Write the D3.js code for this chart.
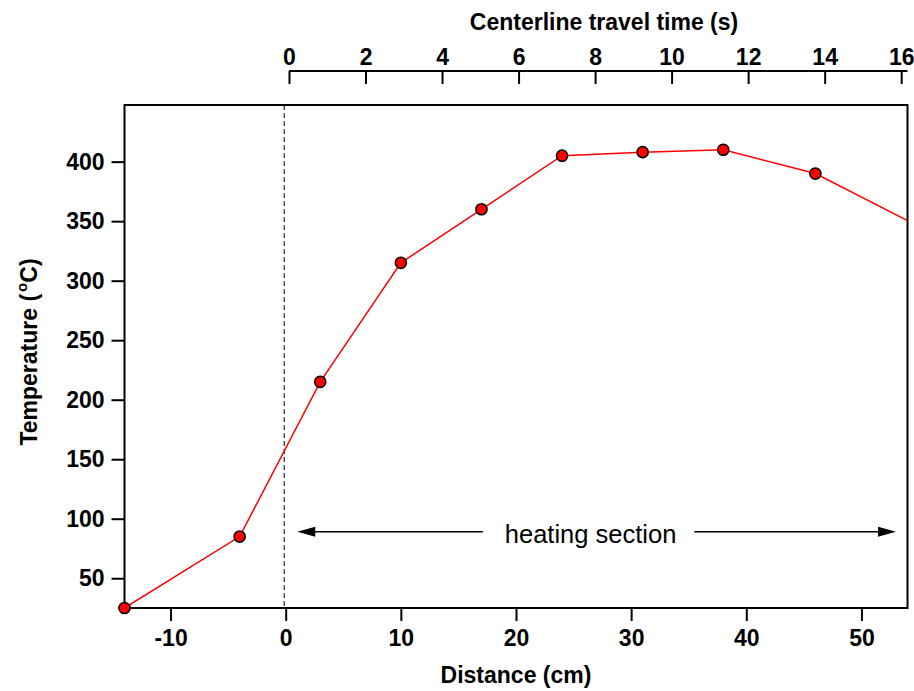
<!DOCTYPE html>
<html>
<head>
<meta charset="utf-8">
<script src="https://cdn.jsdelivr.net/npm/d3@7"></script>
<style>
  body { margin: 0; background: #fff; }
  svg { display: block; }
  text { font-family: "Liberation Sans", Arial, Helvetica, sans-serif; }
</style>
</head>
<body>
<svg id="chart" width="914" height="691"></svg>
<script>
// ---- data ----
const distance = [-14, -4, 3, 10, 17, 24, 31, 38, 46, 54];
const temperature = [25, 85, 215, 315, 360, 405, 408, 410, 390, 350.5];
const distanceTicks = [-10, 0, 10, 20, 30, 40, 50];
const temperatureTicks = [50, 100, 150, 200, 250, 300, 350, 400];
const timeTicks = [0, 2, 4, 6, 8, 10, 12, 14, 16];
const xDomain = [-14, 54];
const yDomain = [25, 447.6];
const timeDomain = [0, 16.165];
const annotationText = "heating section";
const annotationRange = [1, 53];
const annotationTemp = 89;

// ---- layout ----
const svg = d3.select("#chart");
const L = 124.5, R = 907.5, T = 105, B = 608;
const x = d3.scaleLinear().domain(xDomain).range([L, R]);
const y = d3.scaleLinear().domain(yDomain).range([B, T]);
const xt = d3.scaleLinear().domain(timeDomain).range([289, R]);
const fontBold = "bold 23px 'Liberation Sans', Arial, sans-serif";
const fmt = d => String(d); // hyphen minus as in the reference

svg.append("defs").append("clipPath").attr("id", "clip")
  .append("rect").attr("x", L).attr("y", T).attr("width", R - L).attr("height", B - T);

// dashed line at x = 0
svg.append("line")
  .attr("x1", x(0) - 1.5).attr("x2", x(0) - 1.5)
  .attr("y1", T).attr("y2", B)
  .attr("stroke", "#000").attr("stroke-width", 1)
  .attr("stroke-dasharray", "5,3");

// frame
svg.append("rect").attr("x", L).attr("y", T).attr("width", R - L).attr("height", B - T)
  .attr("fill", "none").attr("stroke", "#000").attr("stroke-width", 2);

// bottom axis
const xAxis = svg.append("g").attr("transform", `translate(0,${B})`)
  .call(d3.axisBottom(x).tickValues(distanceTicks).tickSize(13).tickPadding(9).tickFormat(fmt));
xAxis.select(".domain").remove();

// left axis
const yAxis = svg.append("g").attr("transform", `translate(${L},0)`)
  .call(d3.axisLeft(y).tickValues(temperatureTicks).tickSize(13).tickPadding(7).tickFormat(fmt));
yAxis.select(".domain").remove();

// top axis
const tAxis = svg.append("g").attr("transform", "translate(0,71)")
  .call(d3.axisTop(xt).tickValues(timeTicks).tickSize(-13).tickPadding(6).tickFormat(fmt));
tAxis.select(".domain").attr("d", `M${xt.range()[0]},0H${xt.range()[1]}`).attr("stroke-width", 2);

[xAxis, yAxis, tAxis].forEach(g => {
  g.selectAll(".tick line").attr("stroke", "#000").attr("stroke-width", 2);
  g.selectAll("text").style("font", fontBold).attr("fill", "#000");
});
tAxis.selectAll(".tick text").attr("y", -6).attr("dy", 0);

// axis titles
svg.append("text").attr("x", (L + R) / 2).attr("y", 683).attr("text-anchor", "middle")
  .style("font", fontBold).text("Distance (cm)");
svg.append("text").attr("x", 604).attr("y", 30).attr("text-anchor", "middle")
  .style("font", fontBold).text("Centerline travel time (s)");
const yt = svg.append("text").attr("transform", "translate(37,352) rotate(-90)")
  .attr("text-anchor", "middle").style("font", fontBold);
yt.append("tspan").text("Temperature (");
yt.append("tspan").attr("dx", 2).attr("dy", -10).style("font-size", "15px").text("o");
yt.append("tspan").attr("dy", 10).text("C)");

// data line
const pts = distance.map((d, i) => ({ x: d, y: temperature[i] }));
svg.append("path").datum(pts)
  .attr("clip-path", "url(#clip)")
  .attr("fill", "none").attr("stroke", "#ff0000").attr("stroke-width", 1.5)
  .attr("d", d3.line().x(d => x(d.x)).y(d => y(d.y)));

svg.selectAll("circle.pt").data(pts.filter(d => d.x < xDomain[1]))
  .join("circle").attr("class", "pt")
  .attr("cx", d => x(d.x)).attr("cy", d => y(d.y)).attr("r", 5.6)
  .attr("fill", "#ff0000").attr("stroke", "#000").attr("stroke-width", 1.5);

// annotation
const ay = y(annotationTemp);
const label = svg.append("text").attr("x", x((annotationRange[0] + annotationRange[1]) / 2) - 6)
  .attr("y", ay + 11).attr("text-anchor", "middle")
  .style("font", "25.5px 'Liberation Sans', Arial, sans-serif").text(annotationText);
const bb = label.node().getBBox();
const arrow = (x1, x2) => {
  const dir = Math.sign(x2 - x1);
  svg.append("line").attr("x1", x1).attr("x2", x2 - dir * 14).attr("y1", ay).attr("y2", ay)
    .attr("stroke", "#000").attr("stroke-width", 1.5);
  svg.append("path")
    .attr("d", `M${x2},${ay}L${x2 - dir * 18},${ay - 5}L${x2 - dir * 18},${ay + 5}Z`)
    .attr("fill", "#000");
};
arrow(bb.x - 22, x(annotationRange[0]));
arrow(bb.x + bb.width + 18, x(annotationRange[1]));
</script>
</body>
</html>
